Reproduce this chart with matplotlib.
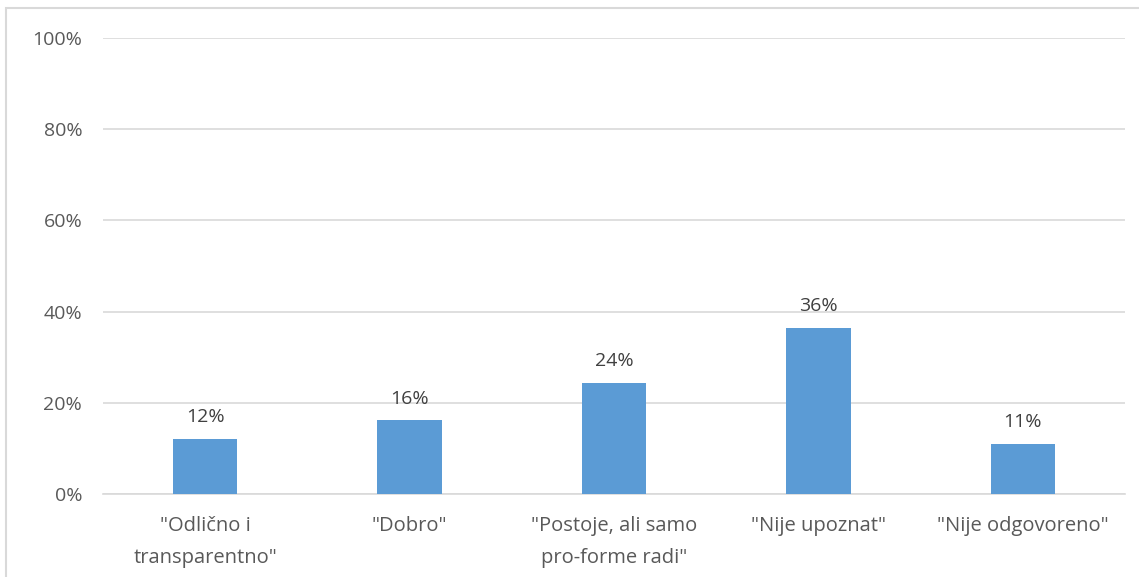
import matplotlib.pyplot as plt
from matplotlib.patches import Rectangle
from matplotlib.ticker import FuncFormatter

categories = ['"Odlično i\ntransparentno"', '"Dobro"', '"Postoje, ali samo\npro-forme radi"', '"Nije upoznat"', '"Nije odgovoreno"']
values = [12.1, 16.2, 24.4, 36.5, 11.0]
labels = ['12%', '16%', '24%', '36%', '11%']
yticks = [0, 20, 40, 60, 80, 100]

plt.rcParams['font.family'] = ['Open Sans', 'DejaVu Sans']
txt = '#595959'

fig = plt.figure(figsize=(11.39, 5.77), dpi=100)
fig.patches.append(Rectangle((6/1139, -0.1), 1.2, 1 - 8/577 + 0.1, transform=fig.transFigure,
                             fill=False, edgecolor='#d9d9d9', linewidth=1.5))
ax = fig.add_axes([103/1139, 1 - 494/577, (1125 - 103)/1139, (494 - 38)/577])
x = list(range(len(categories)))
ax.bar(x, values, width=0.315, color='#5b9bd5', zorder=3)
for xi, v, l in zip(x, values, labels):
    ax.text(xi, v + 3.6, l, ha='center', va='baseline', fontsize=14, color='#404040')
ax.set_xlim(-0.5, len(categories) - 0.5)
ax.set_ylim(0, 100)
ax.set_yticks(yticks)
ax.yaxis.set_major_formatter(FuncFormatter(lambda v, p: f'{int(v)}%'))
ax.grid(axis='y', color='#d9d9d9', linewidth=1.2, zorder=0)
ax.set_xticks(x)
ax.set_xticklabels(categories, fontsize=14.5, color=txt, linespacing=1.8)
ax.tick_params(axis='y', length=0, labelsize=14, labelcolor=txt, pad=15)
ax.tick_params(axis='x', length=0, pad=16)
for s in ['top', 'right', 'left']:
    ax.spines[s].set_visible(False)
ax.spines['bottom'].set_color('#d9d9d9')
ax.spines['bottom'].set_linewidth(1.2)
fig.savefig('out.png', dpi=100)
